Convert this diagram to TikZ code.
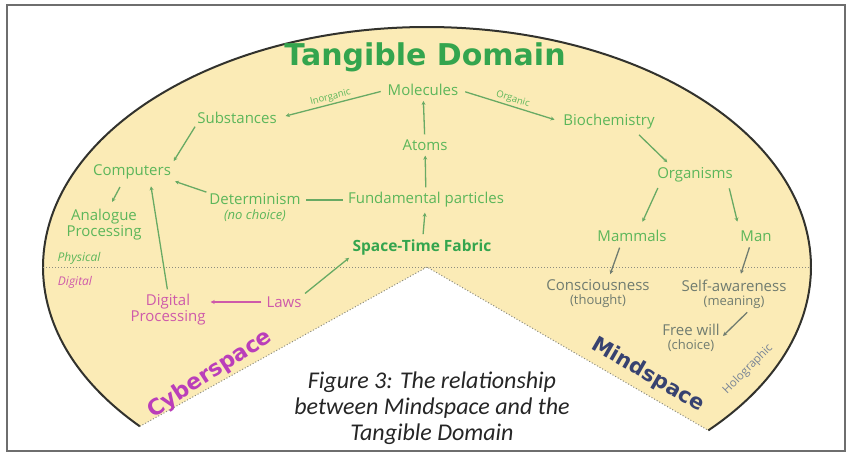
\documentclass[tikz,border=0pt]{standalone}
\usepackage{fontspec}
\setmainfont{Open Sans}
\newfontfamily\titlefont{DejaVu Sans}
\newfontfamily\capfont{Carlito}
\usetikzlibrary{arrows.meta,calc}
\newcommand\parsz{\fontsize{13}{15}\selectfont}
\definecolor{cream}{RGB}{251,235,182}
\definecolor{tgreen}{RGB}{92,182,90}
\definecolor{titlegreen}{RGB}{52,165,78}
\definecolor{lgreen}{RGB}{104,170,100}
\definecolor{pinkc}{RGB}{206,90,170}
\definecolor{cyberc}{RGB}{186,62,186}
\definecolor{mindc}{RGB}{55,66,112}
\definecolor{mgray}{RGB}{112,124,112}
\definecolor{holoc}{RGB}{120,132,150}
\definecolor{outlinec}{RGB}{50,50,45}
\definecolor{dotc}{RGB}{140,140,128}
\definecolor{framec}{RGB}{110,110,110}
\tikzset{
  gtext/.style={text=tgreen, font=\fontsize{15}{17}\selectfont, inner sep=1pt, align=center},
  ptext/.style={text=pinkc, font=\fontsize{15}{17}\selectfont, inner sep=1pt, align=center},
  mtext/.style={text=mgray, font=\fontsize{15}{17}\selectfont, inner sep=1pt, align=center},
  conn/.style={draw=lgreen, line width=1.3pt, -{Stealth[length=4pt,width=4pt]}, shorten >=4pt, shorten <=4pt},
  plainconn/.style={draw=lgreen, line width=1.3pt, shorten >=4pt, shorten <=4pt},
  pconn/.style={draw=pinkc, line width=1.3pt, -{Stealth[length=4pt,width=4pt]}, shorten >=4pt, shorten <=4pt},
  mconn/.style={draw=mgray, line width=1.3pt, -{Stealth[length=4pt,width=4pt]}, shorten >=4pt, shorten <=4pt},
  edgelbl/.style={text=tgreen, font=\fontsize{9.5}{10}\selectfont, inner sep=1.5pt, sloped, above, midway}
}
\begin{document}
\begin{tikzpicture}[x=1pt,y=-1pt]
\useasboundingbox (0,0) rectangle (849,460);
\fill[white] (0,0) rectangle (849,460);
\draw[framec, line width=1.5pt] (7,5) rectangle (845,451);
% main shape
\coordinate (C) at (427,267);
\coordinate (BL) at ($(C)+(138.4:384 and 240)$);
\coordinate (BR) at ($(C)+(42.9:384 and 240)$);
\coordinate (EL) at ($(C)+(180:384 and 240)$);
\coordinate (ER) at ($(C)+(0:384 and 240)$);
\fill[cream] (C) -- (BL) arc[start angle=138.4, end angle=402.9, x radius=384, y radius=240] -- cycle;
\draw[outlinec, line width=2pt] (BL) arc[start angle=138.4, end angle=402.9, x radius=384, y radius=240];
\draw[dotc, line width=1pt, dotted] (BL) -- (C) -- (BR);
\draw[dotc, line width=1pt, dotted] (EL) -- (ER);
% title
\node[text=titlegreen, font=\titlefont\bfseries\fontsize{30}{32}\selectfont] (title) at (425,57) {Tangible Domain};
% nodes
\node[gtext] (mol) at (423,90) {Molecules};
\node[gtext] (sub) at (237,118) {Substances};
\node[gtext] (bio) at (609,122) {Biochemistry};
\node[gtext] (atoms) at (425,145) {Atoms};
\node[gtext] (comp) at (132,172) {Computers};
\node[gtext] (org) at (695,175) {Organisms};
\node[gtext] (fund) at (426,200) {Fundamental particles};
\node[gtext] (det) at (255,208) {Determinism\\[-2pt]{\parsz\itshape (no choice)}};
\node[gtext] (ana) at (104,225) {Analogue\\[-1pt]Processing};
\node[gtext, text=titlegreen, font=\bfseries\fontsize{15.5}{17}\selectfont] (stf) at (422,247) {Space-Time Fabric};
\node[gtext] (mam) at (632,236) {Mammals};
\node[gtext] (man) at (756,236) {Man};
\node[text=tgreen, font=\itshape\fontsize{12}{13}\selectfont, inner sep=1pt] (phys) at (79,258) {Physical};
\node[text=pinkc, font=\itshape\fontsize{12}{13}\selectfont, inner sep=1pt] (digl) at (75,282) {Digital};
\node[ptext] (dig) at (168,310) {Digital\\[-1pt]Processing};
\node[ptext] (laws) at (284,302) {Laws};
\node[mtext] (con) at (598,294) {Consciousness\\[-3pt]{\parsz (thought)}};
\node[mtext] (self) at (734,294) {Self-awareness\\[-3pt]{\parsz (meaning)}};
\node[mtext] (free) at (691,338) {Free will\\[-3pt]{\parsz (choice)}};
\node[text=cyberc, font=\titlefont\bfseries\fontsize{22}{24}\selectfont, rotate=33] (cyber) at (210,374) {Cyberspace};
\node[text=mindc, font=\titlefont\bfseries\fontsize{21}{23}\selectfont, rotate=-30] (mind) at (648,375) {Mindspace};
\node[text=holoc, font=\fontsize{11.5}{13}\selectfont, rotate=45] (holo) at (748,369) {Holographic};
\node[text=black!85, font=\capfont\itshape\fontsize{24}{26}\selectfont, align=center] (cap) at (432,408) {Figure 3: The relationship\\between Mindspace and the\\Tangible Domain};
% connectors
\draw[conn] (atoms) -- (mol);
\draw[conn] (fund) -- (atoms);
\draw[conn] (stf) -- (fund);
\draw[plainconn] (fund.west) -- (fund.west -| det.east);
\draw[conn, shorten <=6pt, shorten >=8pt] (mol.west) -- (sub.east) node[edgelbl] {Inorganic};
\draw[conn, shorten <=6pt, shorten >=8pt] (mol.east) -- (bio.west) node[edgelbl] {Organic};
\draw[conn, shorten <=2pt, shorten >=3pt] (sub.south west) -- (comp.north east);
\draw[conn, shorten <=2pt, shorten >=3pt] (det.north west) -- (comp.south east);
\draw[conn, shorten <=0pt, shorten >=0pt] ($(comp.center)+(-12,15)$) -- ($(comp.center)+(-20,30)$);
\draw[conn, shorten <=4pt, shorten >=6pt] (dig.north) -- ($(comp.south)!0.45!(comp.south east)$);
\draw[pconn] (laws.west) -- (laws.west -| dig.east);
\draw[conn, shorten <=3pt, shorten >=3pt] (laws.north east) -- (stf.south west);
\draw[conn, shorten <=6pt, shorten >=6pt] ($(bio.south)!0.55!(bio.south east)$) -- ($(org.north west)!0.4!(org.north)$);
\draw[conn, shorten <=5pt, shorten >=8pt] ($(org.south west)!0.1!(org.south)$) -- ($(mam.north)!0.2!(mam.north east)$);
\draw[conn, shorten <=5pt, shorten >=8pt] ($(org.south)!0.85!(org.south east)$) -- (man.north west);
\draw[mconn, shorten <=5pt, shorten >=5pt] ($(mam.south)!0.3!(mam.south west)$) -- ($(con.north)!0.2!(con.north east)$);
\draw[mconn, shorten <=5pt, shorten >=5pt] ($(man.south)!0.3!(man.south west)$) -- ($(self.north)!0.1!(self.north east)$);
\draw[mconn, shorten <=4pt, shorten >=3pt] ($(self.south)!0.3!(self.south east)$) -- (free.east);
\end{tikzpicture}
\end{document}
